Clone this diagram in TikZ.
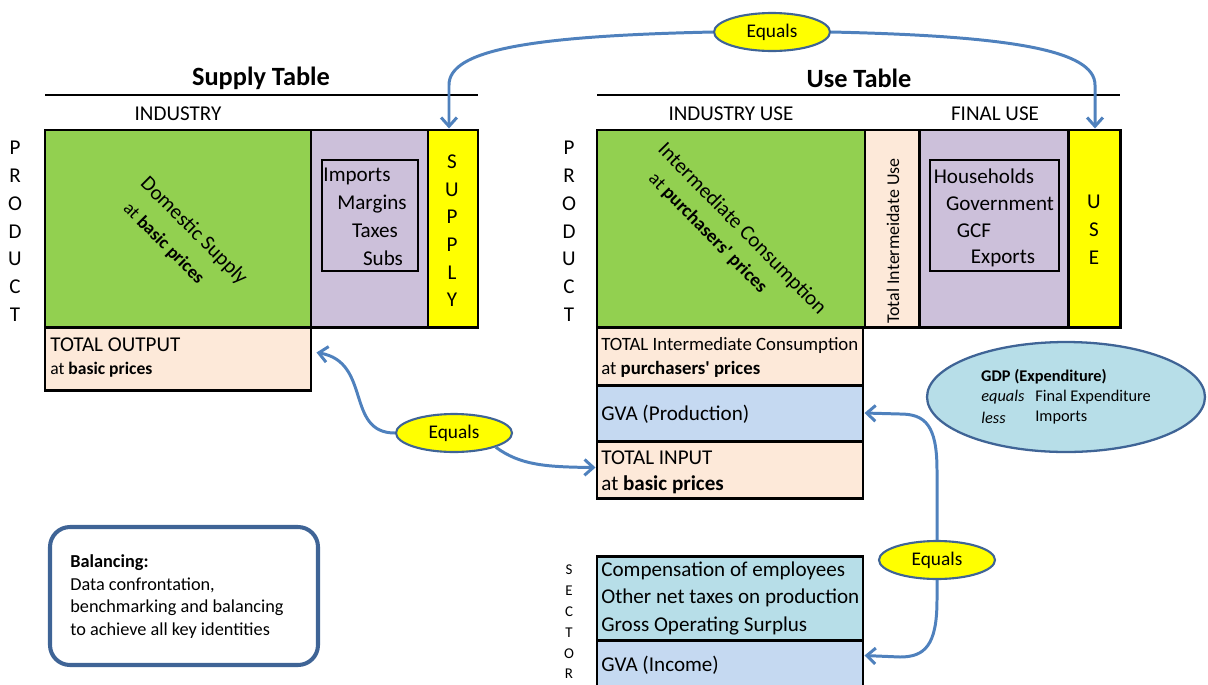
\documentclass[tikz,border=0pt]{standalone}
\usepackage{fontspec}
\setmainfont{Carlito}[Ligatures=TeXOff]
\usetikzlibrary{fit,shapes.geometric,arrows.meta,calc}
\definecolor{cgreen}{HTML}{92D050}
\definecolor{cpurple}{HTML}{CCC0DA}
\definecolor{cyellow}{HTML}{FFFF00}
\definecolor{cpeach}{HTML}{FDE9D9}
\definecolor{cgva}{HTML}{C5D9F1}
\definecolor{clblue}{HTML}{B7DEE8}
\definecolor{carrow}{HTML}{4F81BD}
\definecolor{cborder}{HTML}{3F6496}
\begin{document}
\begin{tikzpicture}[x=0.02cm,y=-0.02cm,
  cell/.style={draw=black,line width=1.7pt,inner sep=0pt},
  inbox/.style={draw=black,line width=1.1pt,inner sep=0pt},
  txt/.style={inner sep=0pt,font=\fontsize{12}{14}\selectfont},
  ltxt/.style={txt,anchor=west},
  title/.style={inner sep=0pt,font=\fontsize{15}{17}\selectfont\bfseries},
  rule/.style={line width=1.7pt},
  gdptxt/.style={inner sep=0pt,anchor=west,font=\fontsize{9.3}{11}\selectfont},
  equalsnode/.style={ellipse,draw=cborder,fill=cyellow,line width=1.2pt,minimum width=2.32cm,minimum height=0.76cm,inner sep=0pt,font=\fontsize{11}{13}\selectfont},
  arr/.style={draw=carrow,line width=1.7pt,-{Straight Barb[length=5pt,width=9pt]}},
]
\useasboundingbox (0,0) rectangle (1208,684);

% ---------- titles ----------
\node[title] (stitle) at (261,78) {Supply Table};
\node[title] (utitle) at (859,78) {Use Table};
\coordinate (sl1) at (45,95); \coordinate (sl2) at (478,95);
\coordinate (ul1) at (597,95); \coordinate (ul2) at (1120,95);
\draw[rule] (sl1) -- (sl2);
\draw[rule] (ul1) -- (ul2);
\node[txt] (ind) at (178,114) {INDUSTRY};
\node[txt] (induse) at (731,114) {INDUSTRY USE};
\node[txt] (finuse) at (995,114) {FINAL USE};

% ---------- supply table ----------
\node[cell,fill=cgreen,fit={(45,130)(311,327)}] (dom) {};
\node[cell,fill=cpurple,fit={(311,130)(428,327)}] (imp) {};
\node[cell,fill=cyellow,fit={(428,130)(478,327)}] (sup) {};
\node[cell,fill=cpeach,fit={(45,327)(311,390)}] (tout) {};
\node[inbox,fit={(322,160)(418,271)}] (impin) {};
\node[txt] (i1) at (357,176) {Imports};
\node[txt] (i2) at (372,204) {Margins};
\node[txt] (i3) at (375,231) {Taxes};
\node[txt] (i4) at (383,258) {Subs};
\foreach \l [count=\i] in {S,U,P,P,L,Y}
  \node[txt] (sl\i) at (452,{162+27.6*(\i-1)}) {\l};
\foreach \l [count=\i] in {P,R,O,D,U,C,T}
  \node[txt] (sp\i) at (15,{148+27.8*(\i-1)}) {\l};
\node[txt,rotate=-45,align=left,font=\fontsize{12}{16.8}\selectfont] (domt) at (183.5,241.5)
  {Domestic Supply\\{\fontsize{10.4}{16.8}\selectfont\hspace*{0.11cm}at \textbf{basic prices}}};
\node[ltxt] (to1) at (50,345) {TOTAL OUTPUT};
\node[ltxt,font=\fontsize{10}{12}\selectfont] (to2) at (50,370) {at \textbf{basic prices}};

% ---------- use table ----------
\node[cell,fill=cgreen,fit={(597,130)(865,327)}] (ic) {};
\node[cell,fill=cpeach,fit={(865,130)(919,327)}] (tiu) {};
\node[cell,fill=cpurple,fit={(919,130)(1068,327)}] (fu) {};
\node[cell,fill=cyellow,fit={(1068,130)(1120,327)}] (use) {};
\node[inbox,fit={(930,160)(1059,271)}] (fuin) {};
\node[txt] (f1) at (984,176) {Households};
\node[txt] (f2) at (1000,204) {Government};
\node[txt] (f3) at (974,231) {GCF};
\node[txt] (f4) at (1003,258) {Exports};
\foreach \l [count=\i] in {U,S,E}
  \node[txt] (ul\i) at (1094,{202+27.8*(\i-1)}) {\l};
\foreach \l [count=\i] in {P,R,O,D,U,C,T}
  \node[txt] (up\i) at (569,{148+27.8*(\i-1)}) {\l};
\node[txt,rotate=90,font=\fontsize{10.2}{12}\selectfont] (tiut) at (893,241) {Total Intermeidate Use};
\node[txt,rotate=-45.5,align=left,font=\fontsize{12}{15.2}\selectfont] (ict) at (732.5,238.5)
  {Intermediate Consumption\\{\fontsize{10.8}{15.2}\selectfont\hspace*{0.28cm}at \textbf{purchasers' prices}}};

\node[cell,fill=cpeach,fit={(597,327)(863,385)}] (tic) {};
\node[ltxt,font=\fontsize{10.7}{12}\selectfont] (tic1) at (601,345) {TOTAL Intermediate Consumption};
\node[ltxt,font=\fontsize{10.7}{12}\selectfont] (tic2) at (601,369) {at \textbf{purchasers' prices}};
\node[cell,fill=cgva,fit={(597,385)(863,441)}] (gvap) {};
\node[ltxt] (gvapt) at (601,414) {GVA (Production)};
\node[cell,fill=cpeach,fit={(597,441)(863,498)}] (tin) {};
\node[ltxt] (tin1) at (601,458) {TOTAL INPUT};
\node[ltxt] (tin2) at (601,485) {at \textbf{basic prices}};

% ---------- sector ----------
\node[cell,fill=clblue,fit={(597,556)(863,640)}] (inc) {};
\node[ltxt] (c1) at (601,571) {Compensation of employees};
\node[ltxt] (c2) at (601,598) {Other net taxes on production};
\node[ltxt] (c3) at (601,626) {Gross Operating Surplus};
\node[cell,fill=cgva,fit={(597,640)(863,700)}] (gvai) {};
\node[ltxt] (gvait) at (601,665) {GVA (Income)};
\foreach \l [count=\i] in {S,E,C,T,O,R}
  \node[txt,font=\fontsize{8.5}{10}\selectfont] (sec\i) at (569,{570+20.8*(\i-1)}) {\l};

% ---------- GDP ellipse ----------
\node[ellipse,draw=cborder,fill=clblue,line width=1.3pt,minimum width=5.56cm,minimum height=2.2cm,inner sep=0pt] (gdp) at (1066,397) {};
\node[inner sep=0pt,font=\fontsize{9.3}{11}\selectfont\bfseries] (gdp1) at (1044,377) {GDP (Expenditure)};
\node[gdptxt,font=\fontsize{9.3}{11}\selectfont\itshape] (gdp2) at (981,397) {equals};
\node[gdptxt] (gdp3) at (1035,397) {Final Expenditure};
\node[gdptxt,font=\fontsize{9.3}{11}\selectfont\itshape] (gdp4) at (981,418) {less};
\node[gdptxt] (gdp5) at (1035,418) {Imports};

% ---------- balancing ----------
\node[draw=cborder,line width=2.3pt,rounded corners=0.4cm,fit={(50,527)(318,665)},inner sep=0pt] (bal) {};
\node[inner sep=0pt,anchor=north west,align=left,font=\fontsize{10.4}{13}\selectfont] (balt) at (70,554)
  {\textbf{Balancing:}\\Data confrontation,\\benchmarking and balancing\\to achieve all key identities};

% ---------- equals ellipses and arrows ----------
\node[equalsnode] (eqtop) at (772,32) {Equals};
\node[equalsnode] (eqmid) at (454,433) {Equals};
\node[equalsnode] (eqr) at (937,560) {Equals};

\draw[arr] (eqtop.west) .. controls (530,36) and (449,50) .. (449,85) -- (sup.north -| 449,0);
\draw[arr] (eqtop.east) .. controls (1010,36) and (1095,50) .. (1095,85) -- (use.north -| 1095,0);

\draw[arr] (eqmid.west) .. controls (345,433) and (372,362) .. ($(tout.east)+(4,-6)$);
\draw[arr] (eqmid.south east) .. controls (520,465) and (545,467) .. ($(tin.west)+(0,-2)$);

\draw[arr] (eqr.north) -- (937,470) .. controls (937,425) and (925,414) .. (900,414) -- (gvap.east);
\draw[arr] (eqr.south) -- (937,600) .. controls (937,645) and (925,657) .. (900,657) -- ($(gvai.north east)+(0,17)$);
\end{tikzpicture}
\end{document}
